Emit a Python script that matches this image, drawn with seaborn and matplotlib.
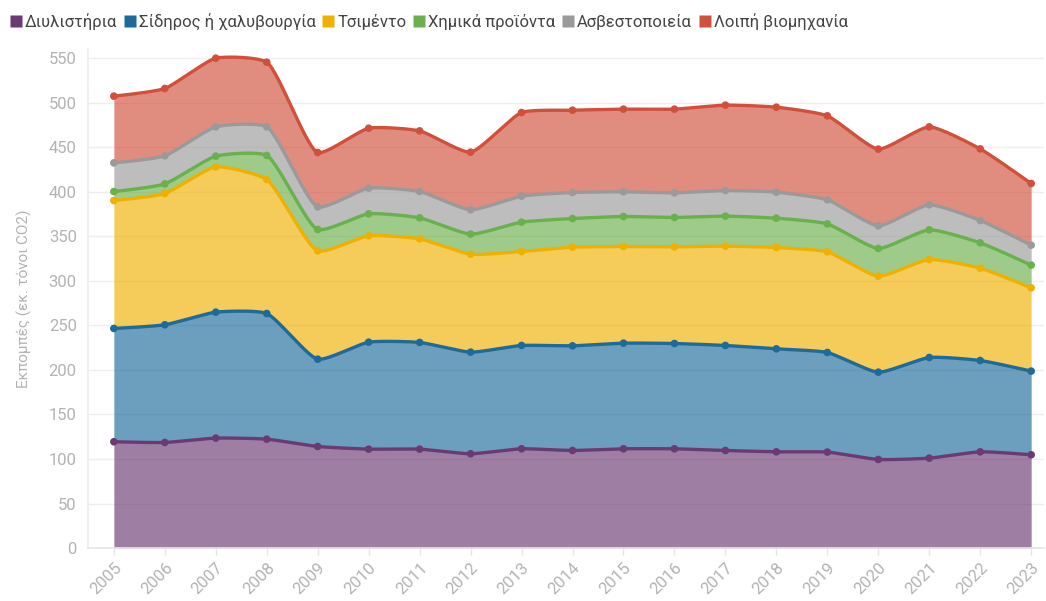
import numpy as np
import pandas as pd
import matplotlib
matplotlib.use("Agg")
import matplotlib.pyplot as plt
from matplotlib.lines import Line2D
import seaborn as sns

# ── data (εκ. τόνοι CO2) ─────────────────────────────────────────────────────
years = list(range(2005, 2024))
sectors = ["Διυλιστήρια", "Σίδηρος ή χαλυβουργία", "Τσιμέντο",
           "Χημικά προϊόντα", "Ασβεστοποιεία", "Λοιπή βιομηχανία"]

refineries = [119.4, 118.6, 123.5, 122.3, 114.1, 111.1, 111.1, 105.9, 111.5, 109.6,
              111.5, 111.5, 109.6, 108.1, 107.8, 99.5, 101.0, 108.1, 104.8]
steel      = [127.2, 132.1, 141.4, 141.1, 98.0, 120.1, 119.8, 114.1, 116.0, 117.5,
              118.6, 118.2, 117.9, 115.6, 111.8, 98.0, 113.0, 102.5, 93.9]
cement     = [143.6, 147.4, 163.1, 150.4, 121.6, 119.4, 116.3, 110.0, 105.5, 110.8,
              108.5, 108.5, 111.5, 113.8, 113.0, 107.8, 110.0, 103.7, 93.5]
chemicals  = [10.1, 10.8, 12.0, 27.0, 24.0, 24.7, 23.6, 22.5, 32.9, 32.1,
              33.7, 33.0, 33.7, 32.9, 31.4, 31.1, 33.3, 28.4, 25.5]
lime       = [32.2, 31.5, 32.9, 32.1, 25.4, 28.8, 29.5, 27.3, 29.2, 29.2,
              27.7, 27.6, 28.8, 29.2, 27.0, 25.4, 28.1, 25.1, 22.4]
other      = [74.9, 75.6, 77.1, 72.6, 61.0, 67.3, 68.1, 64.7, 93.9, 92.4,
              92.8, 94.0, 95.8, 95.4, 94.3, 86.1, 87.5, 80.4, 69.2]

series = [refineries, steel, cement, chemicals, lime, other]
colors = ["#6b3a72", "#1d6a9c", "#f0b000", "#6ab04c", "#9a9a9a", "#d0503c"]
yticks = list(range(0, 551, 50))

# cumulative tops for the stack
cum = np.cumsum(np.array(series), axis=0)
df = pd.DataFrame({
    "year": np.tile(years, len(sectors)),
    "top": cum.ravel(),
    "sector": np.repeat(sectors, len(years)),
})

PX_X, PX_Y = 51.06, 0.891   # screen scale, used only to shape the curve
SMOOTH = 0.55


def _tangent(p0, p1, p2, smooth=SMOOTH):
    d1 = p0 - p1
    d2 = p2 - p1
    a1 = np.hypot(*d1) ** 0.5
    a2 = np.hypot(*d2) ** 0.5
    num = (a2 * a2 * d1 - a1 * a1 * d2) * smooth
    den1 = 3 * a2 * (a1 + a2)
    den2 = 3 * a1 * (a1 + a2)
    return p1 + num / den1, p1 - num / den2


def spline(x, y, n=30):
    """Cardinal-type smoothing through the points (render only)."""
    pts = np.column_stack([np.asarray(x, float) * PX_X, np.asarray(y, float) * PX_Y])
    tans = [_tangent(pts[i - 1], pts[i], pts[i + 1]) for i in range(1, len(pts) - 1)]
    segs = []
    t = np.linspace(0, 1, n)[:, None]
    c = tans[0][0]
    segs.append((1 - t) ** 2 * pts[0] + 2 * (1 - t) * t * c + t ** 2 * pts[1])
    for i in range(2, len(pts) - 1):
        c1 = tans[i - 2][1]
        c2 = tans[i - 1][0]
        segs.append((1 - t) ** 3 * pts[i - 1] + 3 * (1 - t) ** 2 * t * c1
                    + 3 * (1 - t) * t ** 2 * c2 + t ** 3 * pts[i])
    c = tans[-1][1]
    segs.append((1 - t) ** 2 * pts[-2] + 2 * (1 - t) * t * c + t ** 2 * pts[-1])
    out = np.vstack(segs)
    return out[:, 0] / PX_X, out[:, 1] / PX_Y


# ── plot ─────────────────────────────────────────────────────────────────────
sns.set_theme(style="white")
plt.rcParams["font.family"] = ["Roboto", "DejaVu Sans"]

fig = plt.figure(figsize=(10.46, 6.01), dpi=100)
ax = fig.add_axes([0.084, 0.088, 0.914, 0.83])

lower = None
for i, name in enumerate(sectors):
    sx, sy = spline(years, cum[i])
    base = np.zeros_like(sy) if lower is None else lower
    ax.fill_between(sx, base, sy, color=colors[i], alpha=0.65, lw=0, zorder=1)
    ax.plot(sx, sy, color=colors[i], lw=2.4, zorder=3)
    lower = sy

sns.scatterplot(data=df, x="year", y="top", hue="sector", hue_order=sectors,
                palette=colors, s=30, edgecolor="none", legend=False,
                ax=ax, zorder=4)

ax.set_xlim(2004.49, 2023.25)
ax.set_ylim(0, 560)
ax.set_yticks(yticks)
ax.set_xticks(years)
ax.set_xticklabels([str(y) for y in years], rotation=45, ha="right",
                   rotation_mode="anchor")
ax.tick_params(axis="both", colors="#b3b3b3", labelsize=12)
ax.tick_params(axis="x", length=5, width=1, color="#e6e6e6", bottom=True)
ax.tick_params(axis="y", length=0, pad=8)
ax.yaxis.grid(True, color="#eeeeee", lw=1)
ax.set_axisbelow(True)
for s in ["top", "right"]:
    ax.spines[s].set_visible(False)
ax.spines["left"].set_color("#eeeeee")
ax.spines["bottom"].set_color("#e6e6e6")
ax.set_xlabel("")
ax.set_ylabel("Εκπομπές (εκ. τόνοι CO2)", color="#b3b3b3", fontsize=11, labelpad=12)

handles = [Line2D([0], [0], marker="s", color="none", markerfacecolor=c,
                  markeredgecolor="none", markersize=9) for c in colors]
fig.legend(handles, sectors, loc="upper left", bbox_to_anchor=(-0.004, 1.003),
           ncol=6, frameon=False, fontsize=12, handlelength=0.6,
           handletextpad=0.25, columnspacing=0.45, labelcolor="#444444")

plt.savefig("out.png", dpi=100)
plt.close()
